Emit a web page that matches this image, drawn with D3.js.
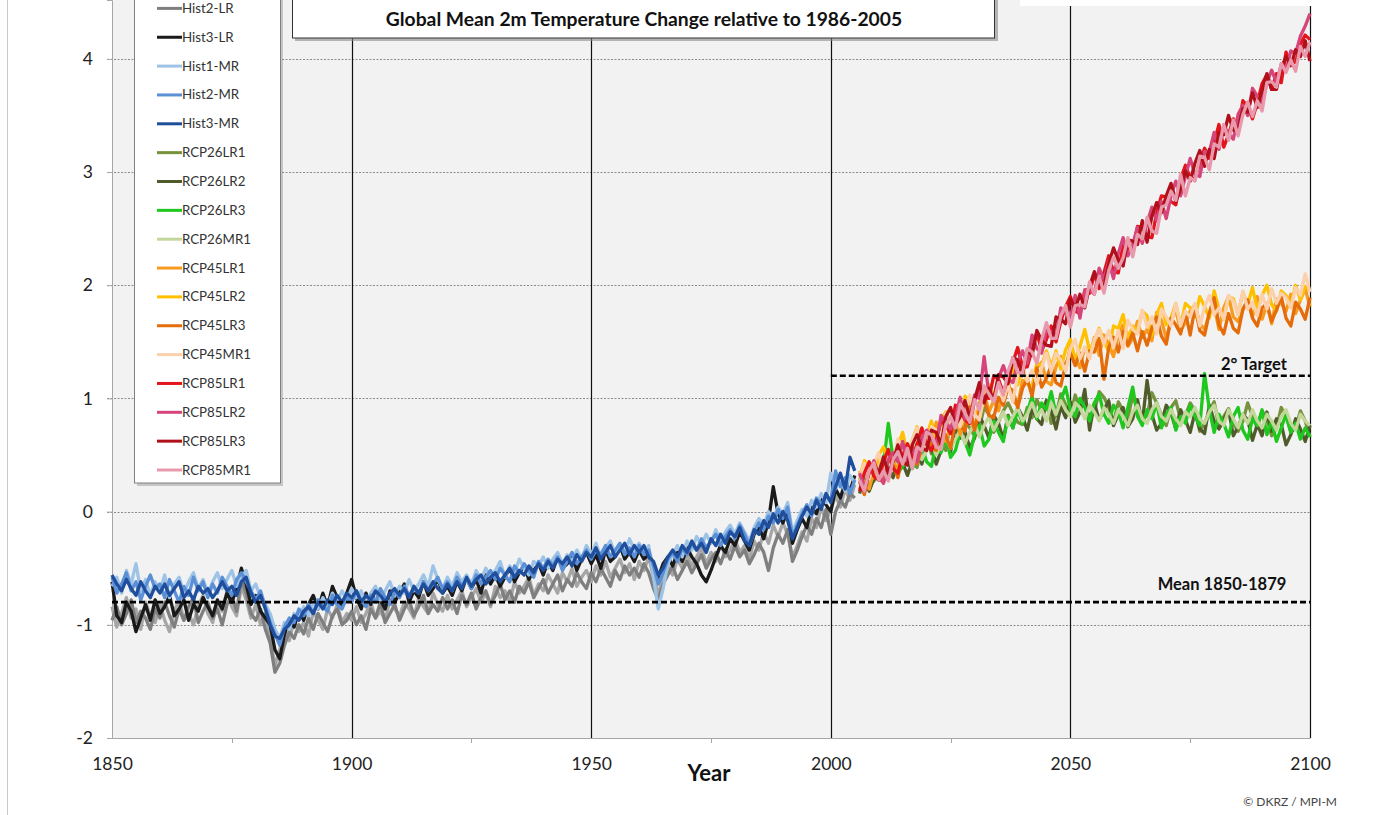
<!DOCTYPE html>
<html>
<head>
<meta charset="utf-8">
<script src="https://cdn.jsdelivr.net/npm/d3@7"></script>
<style>
body { margin: 0; background: #fff; }
svg { display: block; font-family: Lato, "Open Sans", sans-serif; }
</style>
</head>
<body>
<svg></svg>
<script>
// chart size
var width = 1381;
var height = 815;

// first year of each run type
var histStart = 1850;
var rcpStart = 2006;

var yTicks = [-2, -1, 0, 1, 2, 3, 4];
var xTicks = [1850, 1900, 1950, 2000, 2050, 2100];
var xMinorTicks = [1875, 1925, 1975, 2025, 2075];
var gridYears = [1900, 1950, 2000, 2050, 2100];

var titleText = "Global Mean 2m Temperature Change relative to 1986-2005";
var meanLevel = -0.8;   // Mean 1850-1879
var targetLevel = 1.2;  // 2° Target

var names = ["Hist1-LR", "Hist2-LR", "Hist3-LR", "Hist1-MR", "Hist2-MR", "Hist3-MR",
             "RCP26LR1", "RCP26LR2", "RCP26LR3", "RCP26MR1",
             "RCP45LR1", "RCP45LR2", "RCP45LR3", "RCP45MR1",
             "RCP85LR1", "RCP85LR2", "RCP85LR3", "RCP85MR1"];

var colors = ["#a6a6a6", "#7f7f7f", "#1a1a1a", "#9dc3e6", "#5b8fd6", "#1f4e9c",
              "#76923c", "#4f5b2a", "#1ec81e", "#c4d79b",
              "#f79a1e", "#ffc000", "#e46c0a", "#fbd0aa",
              "#e3141c", "#d6457a", "#b0101a", "#e89aac"];

// historical runs, 1850-2005
var hist1LR = [
 -0.84,-1.02,-0.90,-0.76,-0.94,-0.86,-1.04,-0.80,-0.92,-0.98,
 -0.82,-0.96,-1.06,-0.88,-0.78,-0.96,-0.90,-1.00,-0.84,-0.74,
 -0.90,-0.98,-0.80,-0.88,-0.70,-0.84,-0.92,-0.66,-0.78,-0.94,
 -0.82,-1.00,-0.90,-1.12,-1.36,-1.22,-1.06,-1.14,-0.96,-1.06,
 -0.98,-1.10,-0.88,-0.96,-1.04,-0.86,-0.94,-0.82,-0.98,-0.90,
 -0.96,-0.84,-0.98,-0.90,-0.80,-0.94,-0.88,-0.96,-0.78,-0.86,
 -0.92,-0.80,-0.86,-0.94,-0.76,-0.84,-0.90,-0.72,-0.82,-0.88,
 -0.74,-0.86,-0.78,-0.70,-0.84,-0.76,-0.68,-0.80,-0.72,-0.84,
 -0.66,-0.76,-0.70,-0.80,-0.62,-0.72,-0.66,-0.58,-0.74,-0.64,
 -0.70,-0.56,-0.64,-0.72,-0.54,-0.62,-0.50,-0.66,-0.58,-0.52,
 -0.62,-0.48,-0.56,-0.44,-0.58,-0.50,-0.42,-0.54,-0.46,-0.60,
 -0.44,-0.52,-0.40,-0.58,-0.72,-0.60,-0.48,-0.56,-0.42,-0.50,
 -0.38,-0.48,-0.40,-0.32,-0.46,-0.36,-0.44,-0.28,-0.40,-0.34,
 -0.24,-0.36,-0.30,-0.42,-0.26,-0.34,-0.18,-0.28,-0.12,-0.22,
 -0.10,-0.20,-0.40,-0.30,-0.18,-0.26,-0.06,-0.14,0.04,-0.08,
 0.02,0.14,0.04,0.20,0.10,0.24];

var hist2LR = [
 -0.96,-0.84,-1.00,-0.90,-0.78,-0.98,-0.88,-0.94,-1.04,-0.86,
 -0.94,-0.80,-0.92,-1.02,-0.86,-0.96,-0.84,-0.76,-0.98,-0.88,
 -0.80,-0.94,-0.86,-1.00,-0.82,-0.74,-0.88,-0.60,-0.72,-0.90,
 -0.96,-0.86,-1.04,-1.16,-1.42,-1.34,-1.18,-1.06,-1.12,-1.00,
 -1.08,-0.94,-1.04,-0.90,-0.98,-1.06,-0.92,-0.86,-1.00,-0.96,
 -0.88,-1.00,-0.92,-1.04,-0.86,-0.94,-0.80,-0.98,-0.90,-0.82,
 -0.96,-0.86,-0.78,-0.92,-0.84,-0.74,-0.90,-0.82,-0.88,-0.76,
 -0.86,-0.78,-0.90,-0.74,-0.82,-0.72,-0.86,-0.76,-0.70,-0.82,
 -0.74,-0.64,-0.78,-0.70,-0.80,-0.66,-0.72,-0.62,-0.76,-0.68,
 -0.60,-0.72,-0.64,-0.56,-0.70,-0.60,-0.66,-0.54,-0.62,-0.68,
 -0.54,-0.62,-0.50,-0.58,-0.66,-0.52,-0.60,-0.48,-0.56,-0.50,
 -0.58,-0.46,-0.54,-0.68,-0.78,-0.64,-0.56,-0.48,-0.60,-0.52,
 -0.44,-0.54,-0.46,-0.38,-0.50,-0.42,-0.36,-0.46,-0.34,-0.42,
 -0.30,-0.40,-0.34,-0.46,-0.38,-0.28,-0.36,-0.52,-0.32,-0.20,
 -0.28,-0.16,-0.44,-0.34,-0.22,-0.12,-0.20,-0.06,-0.14,0.02,
 -0.20,0.00,0.10,0.04,0.16,0.12];

var hist3LR = [
 -0.62,-0.92,-0.98,-0.80,-0.88,-1.06,-0.94,-0.82,-0.96,-0.78,
 -0.90,-0.84,-0.74,-0.92,-0.86,-0.78,-0.96,-0.82,-0.88,-0.76,
 -0.84,-0.92,-0.78,-0.86,-0.72,-0.80,-0.68,-0.50,-0.64,-0.82,
 -0.74,-0.88,-0.94,-1.00,-1.22,-1.30,-1.08,-0.96,-1.02,-0.88,
 -0.96,-0.82,-0.74,-0.86,-0.72,-0.84,-0.66,-0.76,-0.84,-0.72,
 -0.60,-0.76,-0.86,-0.72,-0.82,-0.68,-0.78,-0.86,-0.70,-0.80,
 -0.72,-0.64,-0.80,-0.70,-0.76,-0.62,-0.74,-0.68,-0.60,-0.72,
 -0.66,-0.74,-0.62,-0.70,-0.58,-0.68,-0.60,-0.72,-0.56,-0.64,
 -0.56,-0.66,-0.58,-0.50,-0.62,-0.54,-0.48,-0.60,-0.52,-0.46,
 -0.56,-0.44,-0.52,-0.40,-0.50,-0.46,-0.38,-0.52,-0.42,-0.36,
 -0.46,-0.38,-0.50,-0.34,-0.44,-0.40,-0.30,-0.42,-0.36,-0.44,
 -0.34,-0.42,-0.38,-0.50,-0.58,-0.46,-0.40,-0.48,-0.36,-0.44,
 -0.32,-0.40,-0.46,-0.56,-0.62,-0.52,-0.40,-0.30,-0.36,-0.24,
 -0.30,-0.18,-0.26,-0.34,-0.20,-0.14,-0.24,-0.08,0.22,-0.02,
 -0.10,0.02,-0.28,-0.16,-0.06,-0.14,0.04,-0.02,0.12,0.06,
 0.00,0.20,0.12,0.26,0.18,0.32];

var hist1MR = [
 -0.66,-0.58,-0.72,-0.52,-0.64,-0.46,-0.70,-0.60,-0.74,-0.62,
 -0.70,-0.56,-0.76,-0.64,-0.58,-0.72,-0.62,-0.54,-0.68,-0.60,
 -0.72,-0.62,-0.54,-0.68,-0.60,-0.52,-0.66,-0.58,-0.52,-0.70,
 -0.64,-0.76,-0.82,-0.90,-1.04,-1.12,-0.98,-1.04,-0.90,-0.94,
 -0.84,-0.92,-0.80,-0.86,-0.76,-0.84,-0.72,-0.80,-0.70,-0.78,
 -0.68,-0.76,-0.70,-0.82,-0.72,-0.66,-0.78,-0.70,-0.62,-0.74,
 -0.66,-0.72,-0.60,-0.70,-0.64,-0.56,-0.66,-0.48,-0.60,-0.68,
 -0.58,-0.66,-0.54,-0.62,-0.56,-0.64,-0.52,-0.60,-0.50,-0.58,
 -0.52,-0.44,-0.58,-0.48,-0.54,-0.42,-0.50,-0.56,-0.44,-0.48,
 -0.40,-0.50,-0.42,-0.36,-0.46,-0.38,-0.44,-0.34,-0.42,-0.30,
 -0.38,-0.28,-0.40,-0.32,-0.26,-0.38,-0.30,-0.36,-0.24,-0.34,
 -0.28,-0.36,-0.30,-0.58,-0.86,-0.68,-0.46,-0.38,-0.30,-0.40,
 -0.26,-0.34,-0.22,-0.30,-0.20,-0.28,-0.16,-0.26,-0.18,-0.12,
 -0.20,-0.10,-0.18,-0.26,-0.14,-0.06,-0.12,0.00,-0.06,0.04,
 -0.02,0.08,-0.18,-0.08,0.02,-0.04,0.10,0.04,0.16,0.08,
 0.34,0.20,0.28,0.18,0.32,0.26];

var hist2MR = [
 -0.58,-0.72,-0.64,-0.54,-0.70,-0.62,-0.78,-0.66,-0.56,-0.68,
 -0.64,-0.76,-0.60,-0.70,-0.80,-0.66,-0.74,-0.58,-0.70,-0.62,
 -0.76,-0.64,-0.72,-0.58,-0.66,-0.74,-0.60,-0.54,-0.62,-0.70,
 -0.78,-0.70,-0.84,-0.98,-1.08,-1.18,-1.02,-0.94,-0.98,-0.86,
 -0.92,-0.82,-0.90,-0.78,-0.84,-0.88,-0.74,-0.82,-0.86,-0.76,
 -0.80,-0.70,-0.78,-0.84,-0.74,-0.80,-0.68,-0.76,-0.82,-0.70,
 -0.76,-0.66,-0.74,-0.68,-0.72,-0.62,-0.70,-0.64,-0.58,-0.68,
 -0.62,-0.70,-0.58,-0.66,-0.60,-0.68,-0.56,-0.64,-0.58,-0.52,
 -0.60,-0.50,-0.56,-0.62,-0.48,-0.54,-0.46,-0.52,-0.58,-0.44,
 -0.50,-0.42,-0.48,-0.40,-0.52,-0.44,-0.36,-0.46,-0.40,-0.34,
 -0.42,-0.34,-0.38,-0.30,-0.40,-0.34,-0.28,-0.38,-0.32,-0.40,
 -0.30,-0.38,-0.34,-0.48,-0.64,-0.54,-0.42,-0.36,-0.44,-0.32,
 -0.38,-0.28,-0.34,-0.24,-0.32,-0.26,-0.20,-0.30,-0.22,-0.16,
 -0.24,-0.12,-0.20,-0.30,-0.18,-0.10,-0.16,-0.04,-0.10,0.02,
 -0.06,0.04,-0.22,-0.12,-0.02,0.06,-0.04,0.12,0.06,0.14,
 0.10,0.36,0.22,0.30,0.16,0.28];

var hist3MR = [
 -0.56,-0.64,-0.70,-0.60,-0.68,-0.74,-0.62,-0.70,-0.76,-0.66,
 -0.72,-0.64,-0.74,-0.68,-0.62,-0.76,-0.70,-0.78,-0.66,-0.72,
 -0.68,-0.76,-0.70,-0.62,-0.70,-0.66,-0.74,-0.62,-0.58,-0.72,
 -0.80,-0.74,-0.86,-1.00,-1.10,-1.12,-1.04,-1.00,-0.92,-0.96,
 -0.88,-0.84,-0.90,-0.80,-0.86,-0.78,-0.82,-0.74,-0.80,-0.72,
 -0.76,-0.70,-0.80,-0.74,-0.78,-0.70,-0.74,-0.80,-0.72,-0.68,
 -0.74,-0.68,-0.76,-0.66,-0.72,-0.64,-0.70,-0.62,-0.68,-0.72,
 -0.64,-0.70,-0.62,-0.68,-0.58,-0.66,-0.60,-0.56,-0.64,-0.58,
 -0.54,-0.62,-0.56,-0.50,-0.58,-0.52,-0.56,-0.48,-0.54,-0.46,
 -0.52,-0.44,-0.50,-0.42,-0.46,-0.40,-0.48,-0.38,-0.44,-0.36,
 -0.40,-0.32,-0.42,-0.36,-0.30,-0.40,-0.34,-0.28,-0.38,-0.30,
 -0.36,-0.30,-0.40,-0.44,-0.56,-0.50,-0.40,-0.34,-0.40,-0.30,
 -0.36,-0.26,-0.34,-0.28,-0.36,-0.24,-0.30,-0.20,-0.28,-0.18,
 -0.22,-0.14,-0.26,-0.30,-0.16,-0.20,-0.08,-0.14,-0.02,-0.10,
 0.00,-0.08,-0.24,-0.14,-0.04,0.04,-0.02,0.10,0.02,0.16,
 0.08,0.22,0.34,0.20,0.48,0.36];

// scenario runs, 2006-2100
var rcp26LR1 = [
 0.28,0.38,0.37,0.27,0.33,0.49,0.29,0.44,0.37,0.56,
 0.55,0.45,0.39,0.56,0.68,0.51,0.66,0.59,0.54,0.81,
 0.72,0.65,0.80,0.74,0.67,0.74,0.92,0.86,0.70,0.79,
 0.89,0.96,0.87,0.79,0.77,0.92,0.83,0.99,0.89,0.98,
 0.78,0.85,1.04,0.95,0.85,1.03,0.91,0.97,0.82,0.88,
 1.06,1.01,0.92,0.78,0.97,0.89,0.83,1.02,0.92,0.81,
 0.85,1.05,0.96,0.85,0.76,0.92,0.98,0.81,0.85,0.96,
 0.89,0.71,0.78,0.89,0.97,0.75,0.84,0.91,0.78,0.71,
 0.80,0.96,0.84,0.74,0.89,0.82,0.67,0.74,0.92,0.84,
 0.70,0.74,0.89,0.80,0.66];

var rcp26LR2 = [
 0.16,0.30,0.18,0.29,0.38,0.27,0.39,0.30,0.48,0.43,
 0.32,0.45,0.60,0.42,0.58,0.57,0.42,0.54,0.67,0.53,
 0.75,0.65,0.71,0.56,0.65,0.85,0.76,0.65,0.85,0.78,
 0.64,0.85,0.74,0.92,0.84,0.72,0.91,0.82,0.77,0.98,
 0.89,0.73,0.93,0.83,0.97,0.79,0.88,1.08,0.72,0.96,
 0.81,0.90,0.98,0.76,0.86,0.92,0.75,0.82,0.99,0.78,
 1.16,0.86,0.72,0.78,0.94,0.87,0.73,0.90,0.81,0.70,
 0.88,0.73,0.69,0.94,0.80,0.73,0.81,0.90,0.67,0.75,
 0.86,0.81,0.63,0.77,0.67,0.88,0.71,0.82,0.77,0.59,
 0.68,0.82,0.73,0.62,0.76];

var rcp26LR3 = [
 0.24,0.32,0.22,0.36,0.28,0.42,0.78,0.46,0.34,0.40,
 0.52,0.38,0.46,0.58,0.44,0.40,0.60,0.52,0.66,0.48,
 0.54,0.70,0.62,0.50,0.68,0.76,0.58,0.64,0.80,0.70,
 0.62,0.84,0.74,0.90,0.78,0.88,1.02,0.82,0.96,0.90,
 1.06,0.86,0.98,1.10,0.90,0.84,1.00,0.92,0.80,0.96,
 1.04,0.86,0.78,0.94,0.88,0.74,0.92,1.10,0.84,0.76,
 0.90,0.82,0.96,0.74,0.86,0.92,0.72,0.84,0.78,0.94,
 0.84,0.76,1.22,0.90,0.70,0.86,0.78,0.66,0.84,0.92,
 0.72,0.64,0.82,0.76,0.90,0.68,0.80,0.62,0.74,0.86,
 0.70,0.78,0.64,0.74,0.66];

var rcp26MR1 = [
 0.28,0.36,0.26,0.32,0.40,0.34,0.46,0.38,0.44,0.52,
 0.42,0.48,0.56,0.46,0.54,0.62,0.50,0.60,0.66,0.56,
 0.64,0.72,0.60,0.70,0.78,0.66,0.76,0.84,0.72,0.80,
 0.88,0.76,0.84,0.92,0.80,0.86,0.96,0.84,0.90,0.80,
 0.96,0.86,0.98,0.90,0.84,0.96,0.92,0.82,0.94,0.88,
 0.80,0.92,0.86,0.78,0.90,0.84,0.76,0.88,0.94,0.82,
 0.78,0.90,0.96,0.84,0.80,0.90,0.82,0.76,0.88,0.84,
 0.92,0.82,0.78,0.88,0.94,0.80,0.76,0.90,0.82,0.74,
 0.86,0.78,0.90,0.80,0.74,0.86,0.80,0.72,0.84,0.90,
 0.78,0.72,0.86,0.80,0.76];

var rcp45LR1 = [
 0.36,0.25,0.20,0.36,0.49,0.31,0.46,0.44,0.37,0.60,
 0.47,0.60,0.43,0.68,0.64,0.57,0.79,0.67,0.62,0.76,
 0.87,0.68,0.87,0.81,0.73,0.96,1.06,0.88,0.98,0.89,
 1.04,1.15,0.98,0.94,1.16,1.13,1.10,1.27,1.32,1.15,
 1.12,1.28,1.37,1.25,1.46,1.36,1.27,1.45,1.37,1.54,
 1.38,1.56,1.48,1.37,1.56,1.65,1.46,1.53,1.68,1.54,
 1.61,1.51,1.76,1.69,1.53,1.69,1.78,1.60,1.67,1.77,
 1.83,1.66,1.61,1.75,1.82,1.61,1.80,1.90,1.72,1.68,
 1.78,1.87,1.72,1.90,1.70,1.83,1.66,1.88,1.84,1.77,
 1.92,1.75,1.87,1.97,1.81];

var rcp45LR2 = [
 0.30,0.45,0.40,0.30,0.50,0.57,0.46,0.42,0.58,0.70,
 0.50,0.63,0.75,0.60,0.67,0.80,0.60,0.81,0.88,0.77,
 0.87,0.75,1.02,0.98,0.88,0.82,1.03,1.12,1.02,1.14,
 0.99,1.12,1.27,1.12,1.28,1.13,1.10,1.31,1.29,1.42,
 1.28,1.42,1.26,1.43,1.52,1.34,1.46,1.61,1.42,1.51,
 1.62,1.50,1.42,1.64,1.62,1.74,1.53,1.64,1.60,1.77,
 1.73,1.56,1.74,1.84,1.65,1.71,1.84,1.64,1.84,1.80,
 1.72,1.90,1.81,1.71,1.95,1.79,1.70,1.90,1.88,1.74,
 1.94,1.83,1.98,1.78,1.91,2.00,1.83,1.77,1.95,1.91,
 1.82,2.00,1.87,1.99,1.95];

var rcp45LR3 = [
 0.27,0.15,0.34,0.43,0.29,0.26,0.47,0.41,0.30,0.50,
 0.58,0.44,0.42,0.57,0.71,0.57,0.54,0.75,0.67,0.56,
 0.80,0.76,0.71,0.93,0.72,0.89,0.99,0.85,0.83,1.01,
 0.94,1.10,1.07,0.92,1.09,1.17,1.02,1.27,1.10,1.18,
 1.29,1.14,1.11,1.30,1.40,1.29,1.40,1.24,1.42,1.41,
 1.53,1.17,1.45,1.54,1.41,1.59,1.47,1.58,1.42,1.59,
 1.47,1.62,1.72,1.55,1.48,1.71,1.65,1.57,1.76,1.56,
 1.81,1.60,1.56,1.76,1.89,1.65,1.57,1.75,1.62,1.58,
 1.79,1.87,1.71,1.64,1.80,1.84,1.68,1.78,1.90,1.71,
 1.64,1.85,1.79,1.70,1.89];

var rcp45MR1 = [
 0.30,0.43,0.29,0.43,0.52,0.33,0.52,0.44,0.64,0.54,
 0.46,0.63,0.74,0.60,0.54,0.75,0.72,0.67,0.87,0.77,
 0.91,0.75,0.89,1.03,0.86,0.81,1.02,1.07,0.98,1.14,
 0.98,1.12,0.97,1.21,1.27,1.15,1.25,1.13,1.27,1.40,
 1.24,1.40,1.34,1.24,1.44,1.52,1.35,1.45,1.35,1.52,
 1.61,1.48,1.60,1.45,1.60,1.44,1.69,1.61,1.57,1.78,
 1.63,1.72,1.57,1.79,1.72,1.64,1.84,1.64,1.77,1.72,
 1.84,1.64,1.81,1.91,1.74,1.80,1.70,1.91,1.86,1.74,
 1.95,1.79,1.85,1.73,1.92,1.79,1.97,1.84,1.93,1.89,
 1.80,1.98,1.91,2.10,1.94];

var rcp85LR1 = [
 0.18,0.34,0.44,0.31,0.28,0.44,0.55,0.38,0.34,0.50,
 0.60,0.48,0.59,0.74,0.60,0.54,0.64,0.80,0.76,0.69,
 0.94,0.90,0.81,0.78,0.98,1.09,1.01,1.00,1.20,1.17,
 1.05,1.18,1.32,1.45,1.28,1.28,1.43,1.58,1.42,1.52,
 1.64,1.50,1.68,1.81,1.90,1.77,1.75,1.95,1.93,2.10,
 1.97,2.11,2.26,2.12,2.11,2.36,2.32,2.32,2.52,2.51,
 2.43,2.42,2.64,2.79,2.78,2.74,2.71,2.94,3.06,2.95,
 2.94,3.08,3.21,3.12,3.26,3.42,3.22,3.33,3.47,3.39,
 3.63,3.58,3.47,3.61,3.78,3.86,3.73,3.87,3.79,4.06,
 3.96,3.97,4.13,4.21,4.17];

var rcp85LR2 = [
 0.34,0.22,0.34,0.45,0.32,0.25,0.46,0.52,0.44,0.62,
 0.44,0.57,0.44,0.65,0.72,0.64,0.59,0.85,0.79,0.73,
 0.83,1.01,0.82,0.82,1.03,1.00,1.37,1.03,1.01,1.18,
 1.29,1.17,1.14,1.32,1.42,1.31,1.56,1.44,1.40,1.61,
 1.59,1.54,1.80,1.76,1.71,1.91,1.71,1.96,1.96,1.92,
 2.15,2.05,2.21,2.06,2.28,2.42,2.26,2.36,2.51,2.37,
 2.55,2.69,2.57,2.74,2.59,2.79,2.92,2.79,2.96,3.12,
 2.98,2.96,3.18,3.18,3.35,3.20,3.41,3.34,3.29,3.51,
 3.59,3.50,3.74,3.67,3.61,3.79,3.90,3.79,3.95,3.90,
 4.07,4.05,4.20,4.29,4.40];

var rcp85LR3 = [
 0.22,0.18,0.35,0.42,0.34,0.48,0.34,0.44,0.59,0.44,
 0.41,0.59,0.68,0.56,0.54,0.72,0.70,0.59,0.84,0.92,
 0.76,0.84,0.98,0.83,0.99,1.14,0.96,1.09,0.98,1.21,
 1.19,1.13,1.36,1.34,1.20,1.43,1.38,1.60,1.51,1.47,
 1.46,1.72,1.70,1.66,1.88,1.79,1.92,1.80,1.99,2.12,
 2.00,1.99,2.19,2.33,2.22,2.17,2.40,2.39,2.36,2.57,
 2.38,2.61,2.73,2.64,2.79,2.90,2.74,2.85,3.01,2.92,
 3.08,3.19,3.05,3.20,3.12,3.35,3.33,3.50,3.37,3.37,
 3.56,3.53,3.70,3.57,3.72,3.87,3.73,3.73,3.92,4.02,
 3.94,4.08,4.02,4.16,3.98];

var rcp85MR1 = [
 0.28,0.18,0.36,0.43,0.28,0.36,0.27,0.46,0.53,0.42,
 0.56,0.38,0.57,0.54,0.70,0.68,0.57,0.55,0.77,0.84,
 0.74,0.95,0.87,0.79,0.99,0.90,1.11,1.04,0.97,1.14,
 1.03,1.24,1.36,1.23,1.22,1.44,1.41,1.31,1.52,1.67,
 1.53,1.53,1.73,1.82,1.63,1.82,1.83,1.81,2.03,1.92,
 2.08,1.93,2.13,2.25,2.15,2.24,2.42,2.25,2.45,2.41,
 2.60,2.48,2.46,2.69,2.71,2.83,2.75,2.98,2.79,2.95,
 2.92,3.14,3.13,3.02,3.25,3.22,3.42,3.28,3.46,3.32,
 3.51,3.62,3.49,3.63,3.54,3.79,3.80,3.75,3.96,3.88,
 3.99,3.89,4.11,4.02,4.15];

var seriesValues = [hist1LR, hist2LR, hist3LR, hist1MR, hist2MR, hist3MR,
                    rcp26LR1, rcp26LR2, rcp26LR3, rcp26MR1,
                    rcp45LR1, rcp45LR2, rcp45LR3, rcp45MR1,
                    rcp85LR1, rcp85LR2, rcp85LR3, rcp85MR1];

var series = names.map(function(n, k) {
  var start = k < 6 ? histStart : rcpStart;
  return {
    name: n,
    color: colors[k],
    points: seriesValues[k].map((v, i) => ({ year: start + i, value: v }))
  };
});

// layout
var plotLeft = 112, plotRight = 1310, plotTop = 0, plotBottom = 738;

var x = d3.scaleLinear().domain([1850, 2100]).range([plotLeft, plotRight]);
var y = d3.scaleLinear().domain([-2, 4.52]).range([plotBottom, plotTop]);

var svg = d3.select("svg")
    .attr("width", width)
    .attr("height", height);

// outer chart border (only the left edge is in view)
svg.append("line")
    .attr("x1", 7.5).attr("x2", 7.5)
    .attr("y1", 0).attr("y2", height)
    .attr("stroke", "#c8c8c8");

svg.append("rect")
    .attr("x", plotLeft).attr("y", plotTop)
    .attr("width", plotRight - plotLeft).attr("height", plotBottom - plotTop)
    .attr("fill", "#f2f2f2");

// horizontal dotted grid
svg.append("g")
    .selectAll("line")
    .data(yTicks.filter(d => d > -2))
    .enter()
    .append("line")
        .attr("x1", plotLeft - 5)
        .attr("x2", plotRight)
        .attr("y1", d => Math.round(y(d)) + 0.5)
        .attr("y2", d => Math.round(y(d)) + 0.5)
        .attr("stroke", "#8c8c8c")
        .attr("stroke-dasharray", "2,1.5");

// vertical year lines
svg.append("g")
    .selectAll("line")
    .data(gridYears)
    .enter()
    .append("line")
        .attr("x1", d => Math.round(x(d)) + 0.5)
        .attr("x2", d => Math.round(x(d)) + 0.5)
        .attr("y1", plotTop)
        .attr("y2", plotBottom)
        .attr("stroke", "#111")
        .attr("stroke-width", 1.2);

// axes
var xAxis = svg.append("g")
    .attr("transform", "translate(0," + plotBottom + ")")
    .call(d3.axisBottom(x).tickValues(xTicks).tickSize(0).tickPadding(20).tickFormat(d => String(d)));
xAxis.select(".domain").attr("stroke", "#a6a6a6");
xAxis.selectAll("text").attr("font-size", 17.5).attr("fill", "#222").attr("font-family", "Lato, sans-serif");

svg.append("g")
    .selectAll("line")
    .data(xMinorTicks)
    .enter()
    .append("line")
        .attr("x1", d => Math.round(x(d)) + 0.5)
        .attr("x2", d => Math.round(x(d)) + 0.5)
        .attr("y1", plotBottom)
        .attr("y2", plotBottom + 5)
        .attr("stroke", "#a6a6a6");

var yAxis = svg.append("g")
    .attr("transform", "translate(" + plotLeft + ",0)")
    .call(d3.axisLeft(y).tickValues(yTicks).tickSize(5).tickPadding(14).tickFormat(d => String(d)));
yAxis.select(".domain").attr("stroke", "#a6a6a6");
yAxis.selectAll(".tick line").attr("stroke", "#a6a6a6");
yAxis.selectAll("text").attr("font-size", 17.5).attr("fill", "#222").attr("font-family", "Lato, sans-serif");

// data lines
var line = d3.line()
    .x(d => x(d.year))
    .y(d => y(d.value));

svg.append("g")
    .selectAll("path")
    .data(series)
    .enter()
    .append("path")
        .attr("d", d => line(d.points))
        .attr("fill", "none")
        .attr("stroke", d => d.color)
        .attr("stroke-width", 3.3)
        .attr("stroke-linejoin", "round");

// reference levels
svg.append("line")
    .attr("x1", x(1850)).attr("x2", x(2100))
    .attr("y1", y(meanLevel)).attr("y2", y(meanLevel))
    .attr("stroke", "#000").attr("stroke-width", 2.6)
    .attr("stroke-dasharray", "6,3");

svg.append("line")
    .attr("x1", x(2000)).attr("x2", x(2100))
    .attr("y1", y(targetLevel)).attr("y2", y(targetLevel))
    .attr("stroke", "#000").attr("stroke-width", 2.6)
    .attr("stroke-dasharray", "6,3");

svg.append("text")
    .attr("x", 1222).attr("y", y(meanLevel) - 12)
    .attr("text-anchor", "middle")
    .attr("font-weight", "bold").attr("font-size", 16.5).attr("fill", "#111")
    .text("Mean 1850-1879");

svg.append("text")
    .attr("x", 1254).attr("y", y(targetLevel) - 6)
    .attr("text-anchor", "middle")
    .attr("font-weight", "bold").attr("font-size", 16.5).attr("fill", "#111")
    .text("2° Target");

// axis title and credit
svg.append("text")
    .attr("x", 709).attr("y", 781)
    .attr("text-anchor", "middle")
    .attr("font-weight", "bold").attr("font-size", 22).attr("fill", "#111")
    .text("Year");

svg.append("text")
    .attr("x", 1337).attr("y", 806)
    .attr("text-anchor", "end")
    .attr("font-size", 12).attr("fill", "#444")
    .text("© DKRZ / MPI-M");

// title box
svg.append("rect")
    .attr("x", 295).attr("y", -20).attr("width", 703).attr("height", 61)
    .attr("fill", "#8a8a8a").attr("opacity", 0.6);
svg.append("rect")
    .attr("x", 292.5).attr("y", -20).attr("width", 702).attr("height", 58)
    .attr("fill", "#fff").attr("stroke", "#333");
svg.append("text")
    .attr("x", 644).attr("y", 25.5)
    .attr("text-anchor", "middle")
    .attr("font-weight", "bold").attr("font-size", 19.3).attr("fill", "#111")
    .text(titleText);

// top right fragment of another box
svg.append("rect")
    .attr("x", 1020).attr("y", -10).attr("width", 361).attr("height", 16)
    .attr("fill", "#fff");

// legend
var legendStep = 28.85;
var legendTop = 8.4 - legendStep;
svg.append("rect")
    .attr("x", 137).attr("y", -40).attr("width", 146).attr("height", 526)
    .attr("fill", "#9a9a9a").attr("opacity", 0.5);
svg.append("rect")
    .attr("x", 134.5).attr("y", -40).attr("width", 146).attr("height", 523)
    .attr("fill", "#fff").attr("stroke", "#7f7f7f");

var legend = svg.append("g")
    .selectAll("g")
    .data(series)
    .enter()
    .append("g")
        .attr("transform", (d, i) => "translate(0," + (legendTop + i * legendStep) + ")");

legend.append("line")
    .attr("x1", 157).attr("x2", 182)
    .attr("stroke", d => d.color)
    .attr("stroke-width", 3);

legend.append("text")
    .attr("x", 182).attr("y", 4.5)
    .attr("font-size", 13.3).attr("fill", "#333")
    .text(d => d.name);
</script>
</body>
</html>
